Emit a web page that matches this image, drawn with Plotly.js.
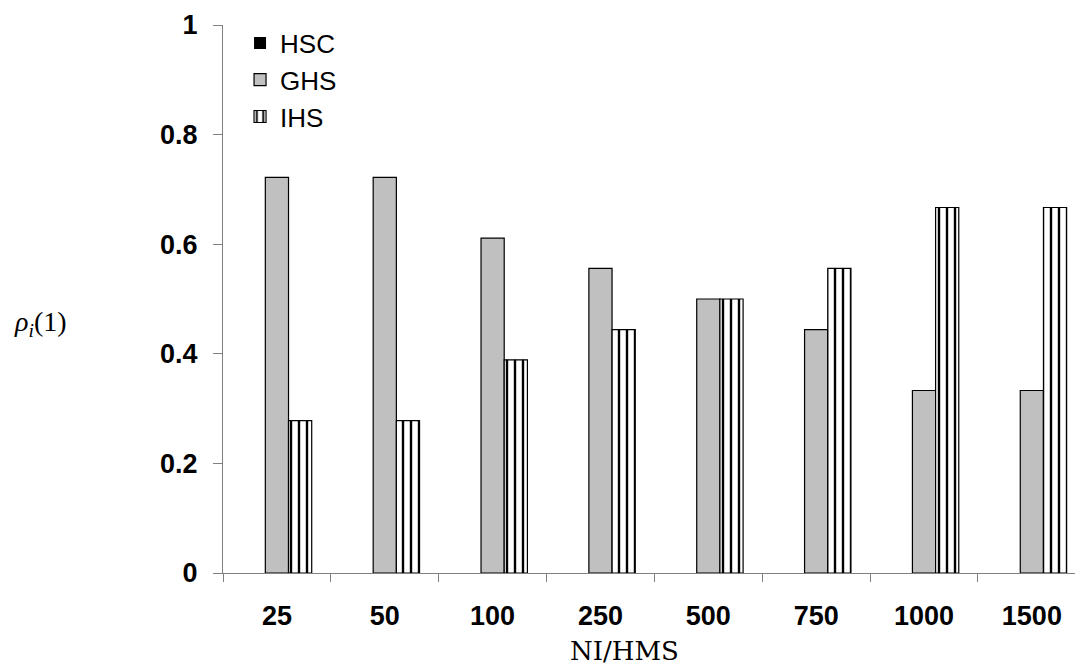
<!DOCTYPE html>
<html>
<head>
<meta charset="utf-8">
<script src="https://cdn.plot.ly/plotly-3.0.1.min.js"></script>
<style>html,body{margin:0;padding:0;background:#fff;}#chart{width:1075px;height:667px;}</style>
</head>
<body>
<div id="chart"></div>
<script>
const categories = ["25", "50", "100", "250", "500", "750", "1000", "1500"];
const hscValues = [0, 0, 0, 0, 0, 0, 0, 0];
const ghsValues = [0.722, 0.722, 0.611, 0.556, 0.5, 0.444, 0.333, 0.333];
const ihsValues = [0.278, 0.278, 0.389, 0.444, 0.5, 0.556, 0.667, 0.667];
const yTicks = [0, 0.2, 0.4, 0.6, 0.8, 1];
const yTickLabels = ["0", "0.2", "0.4", "0.6", "0.8", "1"];

const traces = [
  {type: "bar", name: "HSC", x: categories, y: hscValues, legendgroup: "a",
   marker: {color: "#000000", line: {color: "#000000", width: 0}}},
  {type: "bar", name: "GHS", x: categories, y: ghsValues, legendgroup: "b",
   marker: {color: "#c0c0c0", line: {color: "#000000", width: 1.2}}},
  {type: "bar", name: "IHS", x: categories, y: ihsValues, legendgroup: "c",
   marker: {color: "#ffffff", line: {color: "#000000", width: 1.2},
            pattern: {shape: "|", fgcolor: "#000000", bgcolor: "#ffffff", size: 8, solidity: 0.3}}}
];

const layout = {
  width: 1075, height: 667,
  margin: {l: 223, r: 0, t: 25, b: 94},
  paper_bgcolor: "#ffffff", plot_bgcolor: "#ffffff",
  barmode: "group", bargap: 0.355, bargroupgap: 0,
  showlegend: true,
  legend: {x: 0.02, y: 1.01, xanchor: "left", yanchor: "top", traceorder: "normal",
           tracegroupgap: 0, bgcolor: "rgba(0,0,0,0)",
           font: {family: "Liberation Sans, Arial, sans-serif", size: 26, color: "#000"}},
  xaxis: {type: "category", range: [-0.5, 7.4], tickson: "boundaries",
          ticks: "outside", ticklen: 8, tickcolor: "#808080", tickwidth: 1,
          showline: true, linecolor: "#808080", linewidth: 1, showgrid: false, zeroline: false,
          ticklabelstandoff: 19,
          tickfont: {family: "Liberation Sans, Arial, sans-serif", size: 27, color: "#000", weight: "bold"}},
  yaxis: {range: [0, 1], tickvals: yTicks, ticktext: yTickLabels,
          ticks: "outside", ticklen: 9, tickcolor: "#808080", tickwidth: 1,
          showline: true, linecolor: "#808080", linewidth: 1, showgrid: false, zeroline: false,
          ticklabelstandoff: 10,
          tickfont: {family: "Liberation Sans, Arial, sans-serif", size: 27, color: "#000", weight: "bold"}},
  annotations: [
    {xref: "paper", yref: "paper", x: 0.471, y: -0.143, xanchor: "center", yanchor: "middle",
     showarrow: false, text: "NI/HMS",
     font: {family: "DejaVu Serif, Liberation Serif, serif", size: 26, color: "#000"}},
    {xref: "paper", yref: "paper", x: -0.2475, y: 0.456, xanchor: "left", yanchor: "middle",
     showarrow: false, text: "<i>ρ<sub>i</sub></i>(1)",
     font: {family: "Liberation Serif, Times New Roman, serif", size: 28, color: "#000"}}
  ]
};

Plotly.newPlot("chart", traces, layout, {displayModeBar: false, staticPlot: true});
</script>
</body>
</html>
